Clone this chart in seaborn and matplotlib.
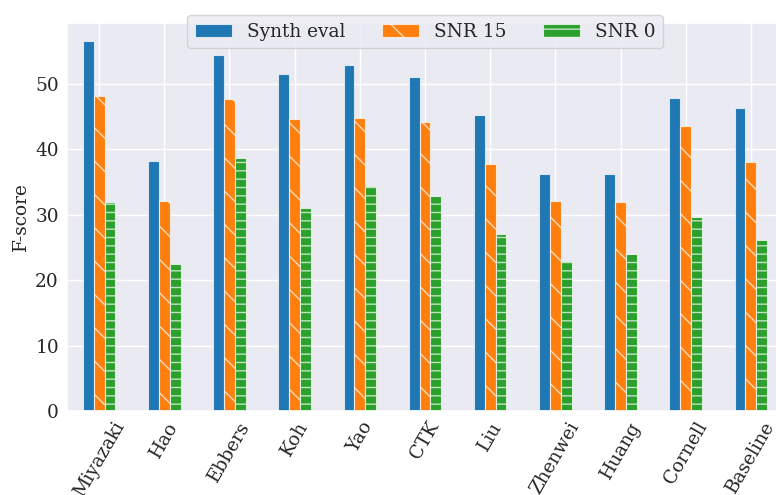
import pandas as pd
import seaborn as sns
import matplotlib.pyplot as plt

# scores
teams = ["Miyazaki", "Hao", "Ebbers", "Koh", "Yao", "CTK", "Liu",
         "Zhenwei", "Huang", "Cornell", "Baseline"]
synth_eval = [56.5, 38.3, 54.5, 51.5, 52.9, 51.0, 45.3, 36.3, 36.2, 47.9, 46.3]
snr_15 = [48.2, 32.1, 47.7, 44.6, 44.8, 44.2, 37.8, 32.1, 32.0, 43.6, 38.1]
snr_0 = [31.9, 22.4, 38.7, 31.0, 34.4, 32.8, 27.1, 22.9, 24.0, 29.6, 26.1]
conditions = ["Synth eval", "SNR 15", "SNR 0"]

df = pd.DataFrame({"Synth eval": synth_eval, "SNR 15": snr_15, "SNR 0": snr_0}, index=teams)
long_df = df.reset_index(names="team").melt(id_vars="team", var_name="condition", value_name="score")

sns.set_theme(style="darkgrid")
plt.rcParams["font.family"] = "DejaVu Serif"
plt.rcParams["font.size"] = 13.3

fig = plt.figure(figsize=(7.76, 4.95), dpi=100)
ax = fig.add_axes([66.5 / 776, 1 - 411 / 495, 717 / 776, 388 / 495])

sns.barplot(data=long_df, x="team", y="score", hue="condition", hue_order=conditions,
            palette=["#1f77b4", "#ff7f0e", "#2ca02c"], saturation=1, width=0.5,
            edgecolor=(1, 1, 1, 0.7), linewidth=0.8, ax=ax)

hatches = ["", "\\", "--"]
for cont, h in zip(ax.containers, hatches):
    for bar in cont:
        bar.set_hatch(h)

ax.set_xlim(-0.5, len(teams) - 0.5)
ax.set_ylim(0, max(synth_eval) * 1.05)
ax.xaxis.grid(True)
ax.set_xlabel("")
ax.set_ylabel("F-score", fontsize=13.3)
ax.tick_params(axis="both", labelsize=13.3, length=0, pad=5.5)
plt.setp(ax.get_xticklabels(), rotation=60, ha="center")

ax.legend(ax.containers, conditions, loc="upper center", bbox_to_anchor=(0.5, 1.044),
          ncol=3, fontsize=13.3, frameon=True)

fig.savefig("out.png", dpi=100)
